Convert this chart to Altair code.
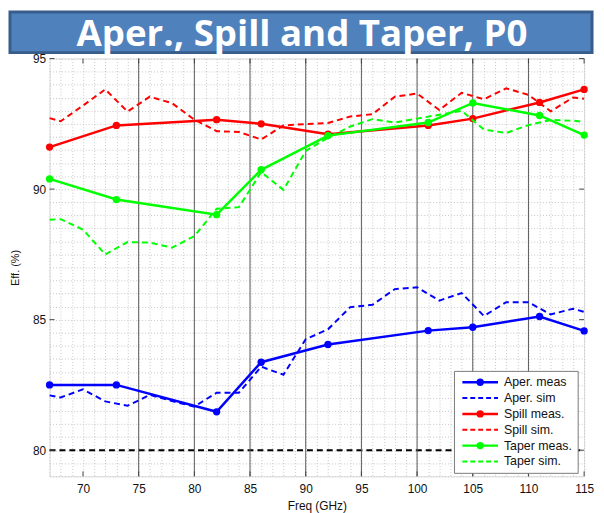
import altair as alt
import pandas as pd

# ---------------- data ----------------
title_text = "Aper., Spill and Taper, P0"

freq_meas = [67, 73, 82, 86, 92, 101, 105, 111, 115]
aper_meas = [82.50, 82.50, 81.47, 83.37, 84.05, 84.58, 84.71, 85.12, 84.57]
spill_meas = [91.61, 92.44, 92.66, 92.50, 92.10, 92.44, 92.70, 93.32, 93.82]
taper_meas = [90.39, 89.60, 89.02, 90.74, 92.05, 92.55, 93.30, 92.82, 92.07]

freq_sim = [67, 68, 70, 72, 74, 76, 78, 80, 82, 84, 86, 88, 90, 92, 94, 96, 98,
            100, 102, 104, 106, 108, 110, 112, 114, 115]
aper_sim = [82.10, 82.02, 82.33, 81.87, 81.70, 82.12, 81.88, 81.67, 82.20, 82.20,
            83.20, 82.89, 84.25, 84.63, 85.48, 85.57, 86.17, 86.24, 85.73, 86.02,
            85.14, 85.67, 85.67, 85.20, 85.42, 85.30]
spill_sim = [92.72, 92.60, 93.20, 93.82, 92.97, 93.54, 93.29, 92.66, 92.22, 92.19,
             91.90, 92.44, 92.49, 92.53, 92.78, 92.87, 93.54, 93.66, 93.03, 93.69,
             93.44, 93.86, 93.61, 92.98, 93.51, 93.46]
taper_sim = [88.83, 88.85, 88.45, 87.50, 87.97, 87.95, 87.76, 88.20, 89.25, 89.31,
             90.65, 89.97, 91.46, 91.97, 92.40, 92.68, 92.55, 92.70, 92.85, 93.00,
             92.28, 92.15, 92.45, 92.65, 92.62, 92.58]

ref_freq = [67, 115]
ref_level = [80, 80]

x_major = [70, 75, 80, 85, 90, 95, 100, 105, 110, 115]
band_lines = [75, 80, 85, 90, 95, 100, 105, 110]
y_major = [80, 85, 90, 95]
x_minor = list(range(67, 116))
y_minor = [79 + 0.5 * i for i in range(33)]

legend_labels = ["Aper. meas", "Aper. sim", "Spill meas.", "Spill sim.",
                 "Taper meas.", "Taper sim."]
legend_colors = ["#0000FF", "#0000FF", "#FF0000", "#FF0000", "#00FF00", "#00FF00"]
legend_is_meas = [True, False, True, False, True, False]

# ---------------- layout ----------------
W, H = 540, 422
FONT = "Liberation Sans"
one = pd.DataFrame({"a": [0]})

xs = alt.Scale(domain=[67, 115], nice=False, zero=False)
ys = alt.Scale(domain=[79, 95], nice=False, zero=False)

x_axis = alt.Axis(values=x_minor, grid=True, gridDash=[1, 2], gridColor="#c6c6c6",
                  gridWidth=1, ticks=False, tickSize=0, domain=False,
                  labelExpr="datum.value % 5 == 0 ? format(datum.value, 'd') : ''",
                  labelOverlap=False, labelFlush=False, labelPadding=7,
                  labelFont=FONT, labelFontSize=12, labelColor="#111111",
                  title="Freq (GHz)", titleFont=FONT, titleFontSize=12,
                  titleFontWeight="normal", titleColor="#111111", titlePadding=7)
y_axis = alt.Axis(values=y_minor, grid=True, gridDash=[1, 2], gridColor="#c6c6c6",
                  gridWidth=1, ticks=False, tickSize=0, domain=False,
                  labelExpr="datum.value % 5 == 0 ? format(datum.value, 'd') : ''",
                  labelOverlap=False, labelFlush=False, labelPadding=4,
                  labelFont=FONT, labelFontSize=12, labelColor="#111111",
                  title="Eff. (%)", titleFont=FONT, titleFontSize=11,
                  titleFontWeight="normal", titleColor="#111111", titlePadding=12)


def X():
    return alt.X("f:Q", scale=xs, axis=x_axis)


def Y():
    return alt.Y("v:Q", scale=ys, axis=y_axis)


def df(f, v):
    return pd.DataFrame({"f": f, "v": v})


layers = []

# banner
layers.append(alt.Chart(one).mark_rect(fill="#4F81BD", stroke="#385D8A", strokeWidth=3).encode(
    x=alt.value(-40), x2=alt.value(548), y=alt.value(-47), y2=alt.value(-6)))

# reference 80% line (also carries the axes)
layers.append(alt.Chart(df(ref_freq, ref_level)).mark_line(
    color="black", strokeWidth=2, strokeDash=[6, 4]).encode(x=X(), y=Y()))

# solid vertical band lines
layers.append(alt.Chart(pd.DataFrame({"f": band_lines})).mark_rule(
    color="#5a5a5a", strokeWidth=1).encode(x=X()))

series = [
    (aper_meas, aper_sim, "#0000FF"),
    (spill_meas, spill_sim, "#FF0000"),
    (taper_meas, taper_sim, "#00FF00"),
]
for meas, sim, col in series:
    layers.append(alt.Chart(df(freq_meas, meas)).mark_line(
        color=col, strokeWidth=2.5,
        point=alt.OverlayMarkDef(filled=True, size=55, color=col)).encode(x=X(), y=Y()))
    layers.append(alt.Chart(df(freq_sim, sim)).mark_line(
        color=col, strokeWidth=2, strokeDash=[6, 4]).encode(x=X(), y=Y()))

# inward ticks
xt = pd.DataFrame({"f": x_major})
yt = pd.DataFrame({"v": y_major})
layers.append(alt.Chart(xt).mark_rule(color="#444444").encode(
    x=X(), y=alt.value(H), y2=alt.value(H - 5)))
layers.append(alt.Chart(xt).mark_rule(color="#444444").encode(
    x=X(), y=alt.value(0), y2=alt.value(5)))
layers.append(alt.Chart(yt).mark_rule(color="#444444").encode(
    y=Y(), x=alt.value(0), x2=alt.value(5)))
layers.append(alt.Chart(yt).mark_rule(color="#444444").encode(
    y=Y(), x=alt.value(W), x2=alt.value(W - 5)))

# legend
LX0, LX1, LY0, LY1 = 409, 534, 316, 419
layers.append(alt.Chart(one).mark_rect(fill="white", stroke="#7a7a7a", strokeWidth=1).encode(
    x=alt.value(LX0), x2=alt.value(LX1), y=alt.value(LY0), y2=alt.value(LY1)))
for i, (lab, col, is_meas) in enumerate(zip(legend_labels, legend_colors, legend_is_meas)):
    ry = 327 + 16 * i
    if is_meas:
        layers.append(alt.Chart(one).mark_rule(color=col, strokeWidth=2.5).encode(
            x=alt.value(417), x2=alt.value(453), y=alt.value(ry)))
        layers.append(alt.Chart(one).mark_circle(color=col, size=55, opacity=1).encode(
            x=alt.value(435), y=alt.value(ry)))
    else:
        layers.append(alt.Chart(one).mark_rule(color=col, strokeWidth=2, strokeDash=[5, 3]).encode(
            x=alt.value(417), x2=alt.value(453), y=alt.value(ry)))
    layers.append(alt.Chart(one).mark_text(
        text=lab, align="left", baseline="middle", font=FONT, fontSize=12.5, color="#111111").encode(
        x=alt.value(459), y=alt.value(ry)))

# title text
layers.append(alt.Chart(one).mark_text(
    text=title_text, align="center", baseline="alphabetic", font="Open Sans",
    fontWeight="bold", fontSize=37, color="white").encode(
    x=alt.value(255), y=alt.value(-13)))

chart = alt.layer(*layers).properties(
    width=W, height=H, autosize="none",
    padding={"left": 42, "top": 48.5, "right": 12, "bottom": 36},
).configure_view(stroke="#8a8a8a", strokeWidth=1.5).configure(background="white")

chart.save("out.html", embed_options={"renderer": "svg", "actions": False})
